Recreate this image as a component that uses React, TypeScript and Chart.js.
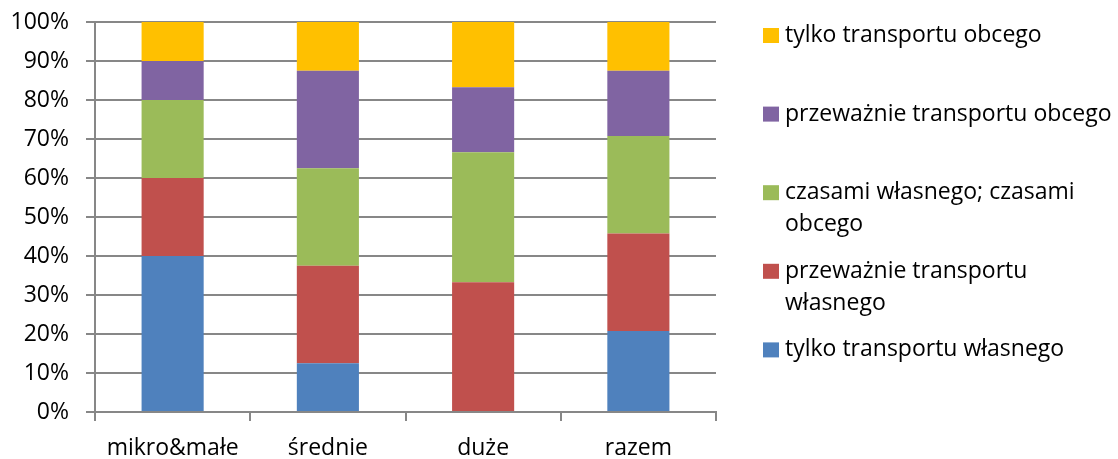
import React, { useEffect, useRef } from "react";
import { Chart, registerables } from "chart.js";

Chart.register(...registerables);

const categories = ["mikro&małe", "średnie", "duże", "razem"];

const tylkoWlasnego = [40, 12.5, 0, 20.8];
const przewazWlasnego = [20, 25, 33.3, 25];
const czasamiObu = [20, 25, 33.3, 25];
const przewazObcego = [10, 25, 16.7, 16.7];
const tylkoObcego = [10, 12.5, 16.7, 12.5];

const seriesNames: string[][] = [
  ["tylko transportu własnego"],
  ["przeważnie transportu", "własnego"],
  ["czasami własnego; czasami", "obcego"],
  ["przeważnie transportu obcego"],
  ["tylko transportu obcego"],
];
const seriesValues = [tylkoWlasnego, przewazWlasnego, czasamiObu, przewazObcego, tylkoObcego];
const seriesColors = ["#4F81BD", "#C0504D", "#9BBB59", "#8064A2", "#FFC000"];

const yMin = 0;
const yMax = 100;
const yStep = 10;

const FONT_FAMILY = "'Open Sans', sans-serif";
const FONT_SIZE = 23;
const GRID = "#878787";

const legendPlugin = {
  id: "rightLegend",
  afterDraw(chart: any) {
    const ctx = chart.ctx;
    const ds = chart.data.datasets;
    const boxX = 763;
    const box = 15;
    const textX = 785;
    const firstY = 35.5;
    const gap = 78.6;
    const lineH = 32;
    ctx.save();
    ctx.font = `${FONT_SIZE}px ${FONT_FAMILY}`;
    ctx.textBaseline = "middle";
    ctx.textAlign = "left";
    for (let i = 0; i < ds.length; i++) {
      const d = ds[ds.length - 1 - i];
      const cy = firstY + i * gap;
      ctx.fillStyle = d.backgroundColor;
      ctx.fillRect(boxX, cy - box / 2, box + 1, box);
      ctx.fillStyle = "#000";
      const lines: string[] = d.legendLines;
      lines.forEach((ln, k) => ctx.fillText(ln, textX, cy + k * lineH));
    }
    ctx.restore();
  },
};

export default function App() {
  const ref = useRef<HTMLCanvasElement | null>(null);
  useEffect(() => {
    document.body.style.margin = "0";
    document.body.style.overflow = "hidden";
    const canvas = ref.current!;
    const chart = new Chart(canvas, {
      type: "bar",
      data: {
        labels: categories,
        datasets: seriesValues.map((vals, i) => ({
          label: seriesNames[i].join(" "),
          legendLines: seriesNames[i],
          data: vals,
          backgroundColor: seriesColors[i],
          borderWidth: 0,
          barPercentage: 0.4,
          categoryPercentage: 1,
        })) as any,
      },
      options: {
        responsive: false,
        animation: false,
        layout: { padding: { left: 0, right: 402, top: 22, bottom: 0 } },
        plugins: {
          legend: { display: false },
          tooltip: { enabled: false },
        },
        scales: {
          x: {
            stacked: true,
            offset: true,
            grid: {
              offset: true,
              drawOnChartArea: false,
              drawTicks: true,
              tickLength: 9,
              color: GRID,
              lineWidth: 2,
            },
            border: { display: true, color: GRID, width: 2 },
            ticks: {
              color: "#000",
              font: { family: FONT_FAMILY, size: FONT_SIZE },
              padding: 14,
              maxRotation: 0,
            },
            afterFit: (scale: any) => {
              scale.height = 47;
              scale.paddingLeft = 0;
              scale.paddingRight = 0;
            },
          },
          y: {
            stacked: true,
            min: yMin,
            max: yMax,
            ticks: {
              stepSize: yStep,
              color: "#000",
              font: { family: FONT_FAMILY, size: FONT_SIZE },
              padding: 17,
              callback: (v: any) => `${v}%`,
            },
            grid: {
              color: GRID,
              lineWidth: 2,
              drawTicks: true,
              tickLength: 9,
            },
            border: { display: true, color: GRID, width: 2 },
            afterFit: (scale: any) => {
              scale.width = 95;
              scale.paddingTop = 0;
              scale.paddingBottom = 0;
            },
          },
        },
      },
      plugins: [legendPlugin],
    });
    return () => chart.destroy();
  }, []);
  return (
    <canvas
      ref={ref}
      width={1118}
      height={459}
      style={{ display: "block", width: "1118px", height: "459px" }}
    />
  );
}
